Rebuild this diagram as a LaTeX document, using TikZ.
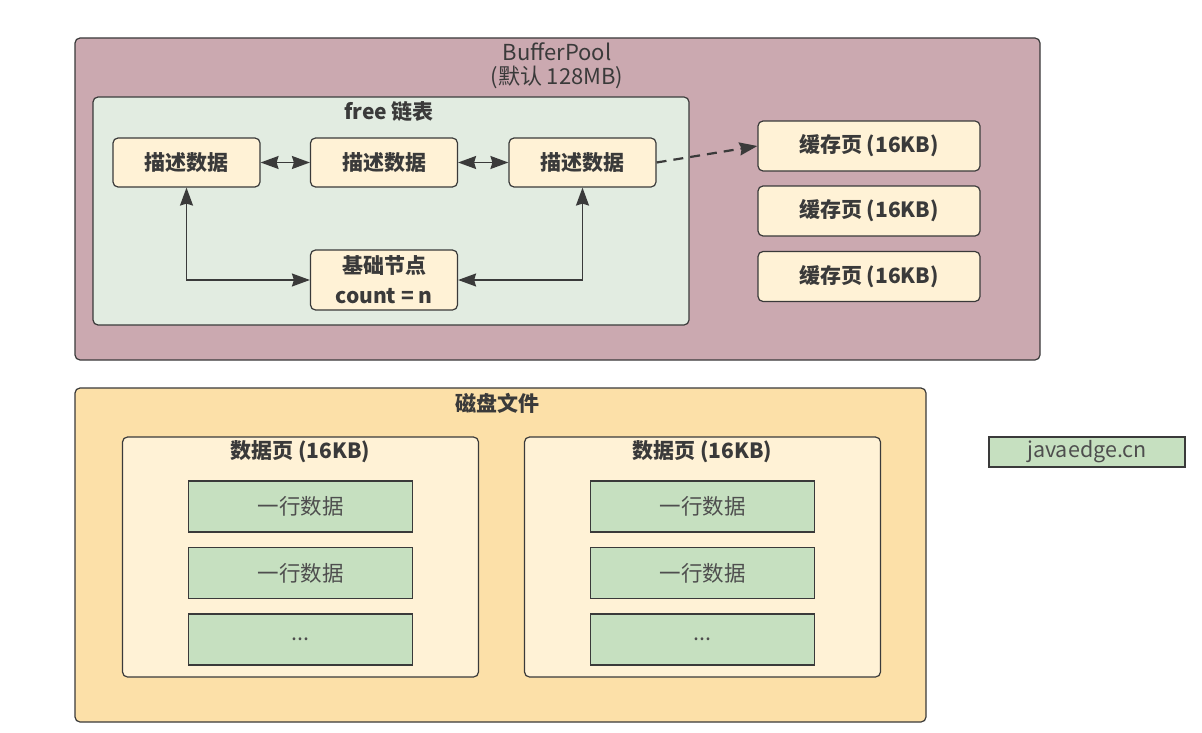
\documentclass[tikz,border=0pt]{standalone}
\usepackage{fontspec}
\setmainfont{Noto Sans CJK SC}
\usetikzlibrary{positioning,arrows.meta}

% --- Colori ---
\definecolor{linea}{HTML}{3A3A3A}
\definecolor{malva}{HTML}{CBA9B0}
\definecolor{verdino}{HTML}{E2ECE1}
\definecolor{crema}{HTML}{FFF2D6}
\definecolor{sabbia}{HTML}{FCE0A8}
\definecolor{verde}{HTML}{C6E0C0}

\tikzset{
    contenitore/.style={draw=linea, line width=1.2pt, rounded corners=5pt, inner sep=0pt},
    scatola/.style={draw=linea, line width=1.2pt, rounded corners=5pt, fill=crema, text=linea,
        inner sep=0pt, align=center, font=\fontsize{21}{30}\selectfont\bfseries},
    riga/.style={draw=linea, line width=1.2pt, fill=verde, inner sep=0pt, text=linea!90,
        minimum width=224pt, minimum height=51pt, font=\fontsize{21.5}{24}\selectfont},
    titolo/.style={align=center, inner sep=0pt, text=linea},
    freccia/.style={draw=linea, line width=1.6pt,
        -{Stealth[length=18pt, width=13pt, inset=2pt]}},
    doppia/.style={draw=linea, line width=1.6pt,
        {Stealth[length=18pt, width=13pt, inset=2pt]}-{Stealth[length=18pt, width=13pt, inset=2pt]}}
}

\begin{document}
\begin{tikzpicture}[x=1pt, y=-1pt]
    \useasboundingbox[fill=white] (0,0) rectangle (1202,733);

    % --- BufferPool ---
    \node[contenitore, fill=malva, minimum width=965pt, minimum height=322pt] (pool) at (557.5,199) {};
    \node[titolo, font=\fontsize{22}{24}\selectfont] (tpool) at (557,66) {BufferPool\\(默认 128MB)};

    % --- Lista free ---
    \node[contenitore, fill=verdino, minimum width=596pt, minimum height=228pt] (lista) at (391,211) {};
    \node[titolo, font=\fontsize{21}{24}\selectfont\bfseries] (tlista) at (389,112) {free 链表};

    \node[scatola, minimum width=147pt, minimum height=49pt] (d1) at (186.5,162.5) {描述数据};
    \node[scatola, minimum width=147pt, minimum height=49pt] (d2) at (384,162.5) {描述数据};
    \node[scatola, minimum width=147pt, minimum height=49pt] (d3) at (582.5,162.5) {描述数据};
    \node[scatola, minimum width=147pt, minimum height=60pt] (base) at (384,280) {基础节点\\count = n};

    \draw[doppia] (d1) -- (d2);
    \draw[doppia] (d2) -- (d3);
    \draw[doppia] (d1.south) |- (base.west);
    \draw[doppia] (d3.south) |- (base.east);

    % --- Pagine di cache ---
    \node[scatola, minimum width=222pt, minimum height=50pt] (c1) at (869,146) {缓存页 (16KB)};
    \node[scatola, minimum width=222pt, minimum height=50pt] (c2) at (869,211) {缓存页 (16KB)};
    \node[scatola, minimum width=222pt, minimum height=50pt] (c3) at (869,276.5) {缓存页 (16KB)};

    \draw[freccia, line width=2.2pt, dash pattern=on 10pt off 7pt] (d3.east) -- (c1.west);

    % --- File su disco ---
    \node[contenitore, fill=sabbia, minimum width=851pt, minimum height=334pt] (disco) at (500.5,555) {};
    \node[titolo, font=\fontsize{21}{24}\selectfont\bfseries] (tdisco) at (497,403) {磁盘文件};

    \foreach \p/\cx in {1/300.5, 2/702.5} {
        \node[contenitore, fill=crema, minimum width=356pt, minimum height=240pt] (pag\p) at (\cx,557) {};
        \node[titolo, font=\fontsize{21}{24}\selectfont\bfseries] (tpag\p) at (\cx,452) {数据页 (16KB)};
        \node[riga] (r\p-1) at (\cx,506.5) {一行数据};
        \node[riga] (r\p-2) at (\cx,573) {一行数据};
        \node[riga] (r\p-3) at (\cx,639.5) {...};
    }

    % --- Etichetta ---
    \node[riga, minimum width=196pt, minimum height=30pt] (sito) at (1087,452) {javaedge.cn};
\end{tikzpicture}
\end{document}
